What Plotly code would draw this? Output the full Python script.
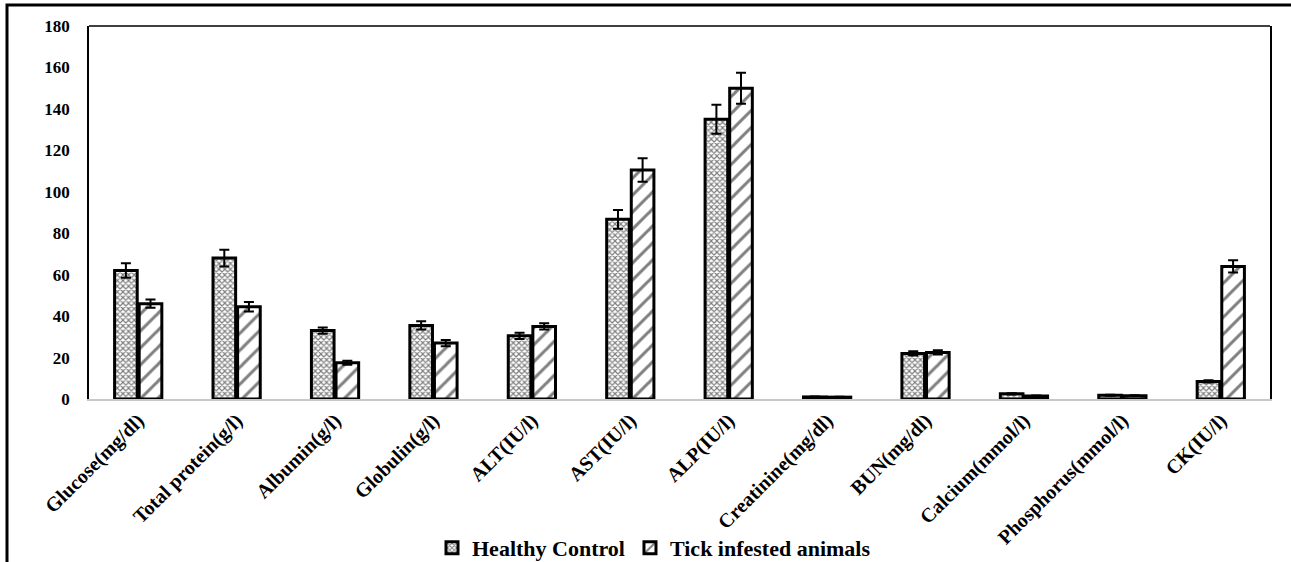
import plotly.graph_objects as go

categories = ["Glucose(mg/dl)", "Total protein(g/l)", "Albumin(g/l)", "Globulin(g/l)",
              "ALT(IU/l)", "AST(IU/l)", "ALP(IU/l)", "Creatinine(mg/dl)", "BUN(mg/dl)",
              "Calcium(mmol/l)", "Phosphorus(mmol/l)", "CK(IU/l)"]
healthy = [62, 68, 33, 35.5, 30.5, 86.7, 135, 1.0, 22, 2.5, 1.8, 8.5]
healthy_err = [3.5, 4, 1.5, 2, 1.5, 4.5, 7, 0.2, 1, 0.3, 0.2, 0.5]
tick = [46, 44.5, 17.5, 27, 35, 110.5, 150, 0.9, 22.5, 1.5, 1.6, 64]
tick_err = [2, 2.3, 1, 1.5, 1.5, 5.7, 7.5, 0.2, 1, 0.2, 0.2, 3]
y_ticks = [0, 20, 40, 60, 80, 100, 120, 140, 160, 180]

FONT = "Liberation Serif"

fig = go.Figure()
fig.add_trace(go.Bar(
    name="Healthy Control", x=categories, y=healthy,
    error_y=dict(type="data", array=healthy_err, color="black", thickness=2, width=5),
    marker=dict(color="white", line=dict(color="black", width=3),
                pattern=dict(shape="x", fgcolor="black", bgcolor="white", size=4, solidity=0.5)),
))
fig.add_trace(go.Bar(
    name="Tick infested animals", x=categories, y=tick,
    error_y=dict(type="data", array=tick_err, color="black", thickness=2, width=5),
    marker=dict(color="white", line=dict(color="black", width=3),
                pattern=dict(shape="/", fgcolor="black", bgcolor="white", size=12, solidity=0.25)),
))

W, H = 1291, 562
L, R, T, B = 89, 21, 26, 163
pw, ph = W - L - R, H - T - B

def px_to_paper_x(px):
    return (px - L) / pw

def px_to_paper_y(py):
    return (H - B - py) / ph

fig.update_layout(
    width=W, height=H,
    margin=dict(l=L, r=R, t=T, b=B, pad=0, autoexpand=False),
    paper_bgcolor="white", plot_bgcolor="white",
    barmode="group", bargap=0.5, bargroupgap=0.08,
    font=dict(family=FONT, color="black", size=17, weight="bold"),
    showlegend=True,
    legend=dict(orientation="h", x=px_to_paper_x(654), xanchor="center",
                y=px_to_paper_y(548), yanchor="middle",
                font=dict(family=FONT, size=22, weight="bold"),
                itemwidth=30, traceorder="normal"),
    xaxis=dict(tickangle=-45, showgrid=False, showline=True, linecolor="#c8c8c8",
               linewidth=2, ticks="", automargin=False,
               tickfont=dict(family=FONT, size=20, weight="bold")),
    yaxis=dict(range=[0, 180], tickvals=y_ticks, showgrid=False, showline=True,
               linecolor="black", linewidth=1.5, mirror=True, ticks="", zeroline=False,
               automargin=False,
               tickfont=dict(family=FONT, size=17, weight="bold"), ticklabelstandoff=14),
    shapes=[
        dict(type="line", xref="paper", yref="paper", x0=0, x1=1, y0=1, y1=1,
             line=dict(color="black", width=1.5)),
        dict(type="path", xref="paper", yref="paper",
             path=f"M {px_to_paper_x(7)},{px_to_paper_y(H + 5)} L {px_to_paper_x(7)},{px_to_paper_y(5)} L {px_to_paper_x(W + 5)},{px_to_paper_y(5)}",
             line=dict(color="black", width=3)),
    ],
)

fig.write_html("out.html", config={"displayModeBar": False},
               post_script="document.body.style.margin='0px';document.body.style.overflow='hidden';")
